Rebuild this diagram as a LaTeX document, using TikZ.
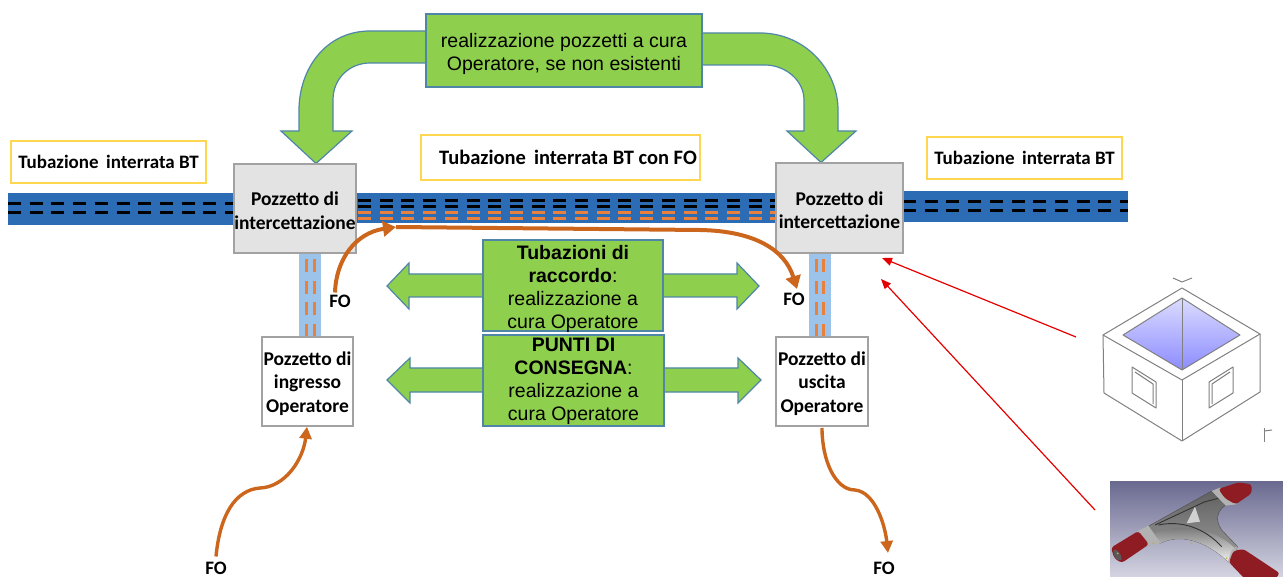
\documentclass[tikz,border=0pt]{standalone}
\usepackage{fontspec}
\setmainfont{Carlito}
\newfontfamily\arialf{Liberation Sans}
\usetikzlibrary{arrows.meta}
\definecolor{pipeblue}{HTML}{2B6CB4}
\definecolor{lightpipe}{HTML}{9CC4EA}
\definecolor{fibre}{HTML}{E9813C}
\definecolor{fibrearrow}{HTML}{CC661C}
\definecolor{leaf}{HTML}{8ECF4E}
\definecolor{leafedge}{HTML}{4F86A8}
\definecolor{labelyellow}{HTML}{FFD650}
\definecolor{boxgrey}{HTML}{E3E3E3}
\definecolor{boxedge}{HTML}{A2A2A2}
\definecolor{photodark}{HTML}{6A6A90}
\definecolor{photolight}{HTML}{D4D4E2}
\definecolor{jointred}{HTML}{8E1C22}
\newcommand{\gapA}{\rule{0pt}{21pt}}
\newcommand{\gapB}{\rule{0pt}{18pt}}
\tikzset{
  labelbox/.style={draw=labelyellow,line width=1.5pt,fill=white,inner sep=0pt,align=center,font=\fontsize{19}{22}\selectfont\bfseries},
  widelabel/.style={labelbox,font=\fontsize{20.5}{22}\selectfont\bfseries},
  wellbox/.style={draw=boxedge,line width=1.5pt,inner sep=0pt,align=center,font=\fontsize{19.5}{23.5}\selectfont\bfseries},
  greybox/.style={wellbox,fill=boxgrey},
  whitebox/.style={wellbox,fill=white},
  greenbox/.style={draw=leafedge,line width=1.2pt,fill=leaf,inner sep=0pt,align=center,font=\arialf\fontsize{19.5}{23.5}\selectfont},
  greentext/.style={inner sep=0pt,align=center,font=\arialf\fontsize{19.5}{23}\selectfont},
  greenarrow/.style={draw=leafedge,line width=1.2pt,fill=leaf},
  folabel/.style={inner sep=0pt,font=\fontsize{19}{20}\selectfont\bfseries},
  pipedash/.style={line width=3pt,dash pattern=on 13pt off 8.7pt},
  fibrev/.style={fibre,line width=3pt,dash pattern=on 13pt off 8.7pt},
  fobig/.style={fibrearrow,line width=4pt,-{Triangle[length=13pt,width=15pt]}},
  fosmall/.style={fibrearrow,line width=3.4pt,-{Triangle[length=12pt,width=12pt]}},
  redline/.style={draw=red!90!black,line width=1.2pt,-{Triangle[length=10pt,width=8pt]}},
  sketch/.style={draw=black!50,line width=1pt,line join=round}
}
\begin{document}
\begin{tikzpicture}[x=1pt,y=-1pt]
\useasboundingbox (0,0) rectangle (1283,577);
% pipes
\fill[pipeblue] (8,193) rectangle (240,225);
\fill[pipeblue] (350,193) rectangle (780,223);
\fill[pipeblue] (900,191) rectangle (1128,222);
\draw[pipedash,black] (8,204) -- (234,204);
\draw[pipedash,black] (8,213) -- (234,213);
\draw[pipedash,black] (358,201) -- (777,201);
\draw[pipedash,black] (358,206.5) -- (777,206.5);
\draw[pipedash,fibre] (358,213) -- (777,213);
\draw[pipedash,fibre] (358,219) -- (777,219);
\draw[pipedash,black] (903,202) -- (1128,202);
\draw[pipedash,black] (903,211) -- (1128,211);
\fill[lightpipe] (299,253) rectangle (321,337);
\fill[lightpipe] (809,253) rectangle (831,337);
\draw[fibrev] (306,259) -- (306,337);
\draw[fibrev] (314,259) -- (314,337);
\draw[fibrev] (816,259) -- (816,337);
\draw[fibrev] (823,259) -- (823,337);
% curved green arrows
\draw[greenarrow] (426,31) -- (370,31) .. controls (325,31) and (299,70) .. (299,110) -- (299,131) -- (281,131) -- (316,163.5) -- (352,131) -- (333,131) -- (333,100) .. controls (333,78) and (350,63) .. (370,63) -- (426,63);
\draw[greenarrow] (702,33) -- (760,33) .. controls (805,33) and (838,70) .. (838,110) -- (838,131) -- (856,131) -- (821,162.5) -- (787,131) -- (804,131) -- (804,100) .. controls (804,80) and (785,65) .. (765,65) -- (702,65);
% straight double arrows
\draw[greenarrow] (483,274) -- (409,274) -- (409,263) -- (387,286) -- (409,309) -- (409,297) -- (483,297);
\draw[greenarrow] (663,274) -- (737,274) -- (737,263) -- (759,286) -- (737,309) -- (737,297) -- (663,297);
\draw[greenarrow] (483,368) -- (410,368) -- (410,358) -- (387,380) -- (410,403) -- (410,392) -- (483,392);
\draw[greenarrow] (664,368) -- (738,368) -- (738,358) -- (761,380) -- (738,403) -- (738,392) -- (664,392);
% nodes
\node[labelbox,minimum width=195pt,minimum height=42pt] (lblL) at (108.5,162) {Tubazione\, interrata BT};
\node[widelabel,minimum width=279pt,minimum height=45pt] (lblM) at (560.5,157.5) {\hspace*{15pt}Tubazione\, interrata BT con FO};
\node[labelbox,minimum width=195pt,minimum height=42pt] (lblR) at (1024.5,158) {Tubazione\, interrata BT};
\node[greybox,minimum width=122pt,minimum height=89pt] (wellL) at (295,208.5) {\gapB Pozzetto di\\intercettazione};
\node[greybox,minimum width=127pt,minimum height=90pt] (wellR) at (839.5,208) {\gapB Pozzetto di\\intercettazione};
\node[whitebox,minimum width=91pt,minimum height=89pt] (wellIn) at (307.5,381.5) {\gapB Pozzetto di\\ingresso\\Operatore};
\node[whitebox,minimum width=92pt,minimum height=89pt] (wellOut) at (822,381.5) {\gapB Pozzetto di\\uscita\\Operatore};
\node[greenbox,minimum width=276pt,minimum height=73pt] (topBox) at (564,50.5) {\gapA realizzazione pozzetti a cura\\Operatore, se non esistenti};
\node[greenbox,minimum width=180pt,minimum height=91pt] (rackBox) at (573,285.5) {};
\node[greenbox,minimum width=181pt,minimum height=91pt] (pointBox) at (573.5,380.5) {};
\node[greentext] (rackText) at (573,288.5) {\textbf{Tubazioni di}\\\textbf{raccordo}:\\realizzazione a\\cura Operatore};
\node[greentext] (pointText) at (573.5,381.5) {\textbf{PUNTI DI}\\\textbf{CONSEGNA}:\\realizzazione a\\cura Operatore};
\node[folabel] (foA) at (340,301) {FO};
\node[folabel] (foB) at (794,299) {FO};
\node[folabel] (foC) at (216,568) {FO};
\node[folabel] (foD) at (884,568) {FO};
% orange connectors
\coordinate (bend) at (396,227);
\draw[fobig] (foA.north) ++(-5,-2) .. controls (336,260) and (355,233) .. (bend);
\draw[fibrearrow,line width=4pt,-{Triangle[length=13pt,width=15pt]}] (bend) -- (700,230) .. controls (755,231) and (785,250) .. (797,289);
\draw[fosmall] (foC.north) ++(0,-5) .. controls (220,515) and (235,490) .. (260,488) .. controls (285,487) and (303,460) .. (wellIn.south -| 307,427);
\coordinate (outEnd) at (888,553);
\draw[fosmall] (822,428) .. controls (822,460) and (835,490) .. (855,490) .. controls (875,492) and (885,525) .. (outEnd);
% red arrows
\coordinate (redA) at (882,258);
\coordinate (redB) at (881,279);
\coordinate (chamberFoot) at (1076,337);
\coordinate (photoFoot) at (1095,510);
\draw[redline] (chamberFoot) -- (redA);
\draw[redline] (photoFoot) -- (redB);
% chamber sketch
\shade[top color=blue!14!white,bottom color=blue!45!white] (1182,298) -- (1240,335) -- (1182,370) -- (1123,335) -- cycle;
\draw[sketch] (1182,288) -- (1260,334) -- (1182,380) -- (1103,335) -- cycle;
\draw[sketch] (1182,298) -- (1240,335) -- (1182,370) -- (1123,335) -- cycle;
\draw[sketch] (1182,298) -- (1182,370);
\draw[sketch] (1103,335) -- (1104,393) -- (1182,441) -- (1260,392) -- (1260,334);
\draw[sketch] (1182,380) -- (1182,441);
\draw[sketch] (1132,367) -- (1156,382) -- (1156,408) -- (1132,393) -- cycle;
\draw[sketch] (1135,372) -- (1153,384) -- (1153,404);
\draw[sketch] (1233,367) -- (1209,382) -- (1209,408) -- (1233,393) -- cycle;
\draw[sketch] (1230,372) -- (1212,384) -- (1212,404);
\draw[sketch] (1173,278) -- (1182,282) -- (1192,278);
\draw[sketch] (1264,428) -- (1264,442);
\draw[sketch] (1264,431) -- (1272,430);
% photo of the joint
\begin{scope}[shift={(1105,475)},x=0.3333pt,y=-0.3333pt]
\clip (15,20) rectangle (534,306);
\shade[top color=photodark,bottom color=photolight] (15,20) rectangle (534,306);
\shade[top color=black!62,bottom color=black!38,draw=black!70] (110,165) -- (320,48) -- (362,90) .. controls (335,110) and (330,135) .. (350,165) -- (398,215) -- (372,262) .. controls (300,195) and (225,175) .. (165,205) -- (135,190) -- cycle;
\shade[top color=black!60,bottom color=black!5] (165,205) .. controls (225,175) and (300,195) .. (372,262) -- (392,222) .. controls (330,160) and (230,140) .. (150,175) -- cycle;
\draw[black!80,line width=0.9pt] (150,150) -- (300,80) -- (340,70);
\draw[black!80,line width=0.9pt] (160,150) .. controls (230,135) and (300,160) .. (350,215);
\fill[black!18] (245,145) -- (270,95) -- (285,140) -- cycle;
\fill[black!30] (95,170) -- (130,152) -- (168,205) -- (130,212) -- cycle;
\fill[black!30] (320,48) -- (345,38) -- (395,88) -- (362,92) -- cycle;
\fill[black!30] (398,212) -- (380,225) -- (368,262) -- (378,268) -- cycle;
\fill[jointred,rounded corners=3pt] (340,42) -- (400,22) -- (440,28) -- (440,55) -- (392,88) -- (360,70) -- cycle;
\fill[jointred,rounded corners=3pt] (385,228) -- (415,222) -- (525,295) -- (510,312) -- (420,312) -- (372,262) -- cycle;
\fill[jointred,rounded corners=3pt] (18,218) -- (100,168) -- (132,208) -- (50,264) -- (28,250) -- cycle;
\fill[black!65] (25,225) .. controls (35,220) and (50,235) .. (50,255) .. controls (35,260) and (25,245) .. (25,225) -- cycle;
\fill[yellow!70!black] (38,235) circle (3);
\fill[yellow!70!black] (260,205) circle (3);
\fill[yellow!70!black] (145,205) circle (3);
\fill[yellow!70!black] (365,250) circle (3);
\end{scope}
\end{tikzpicture}
\end{document}
